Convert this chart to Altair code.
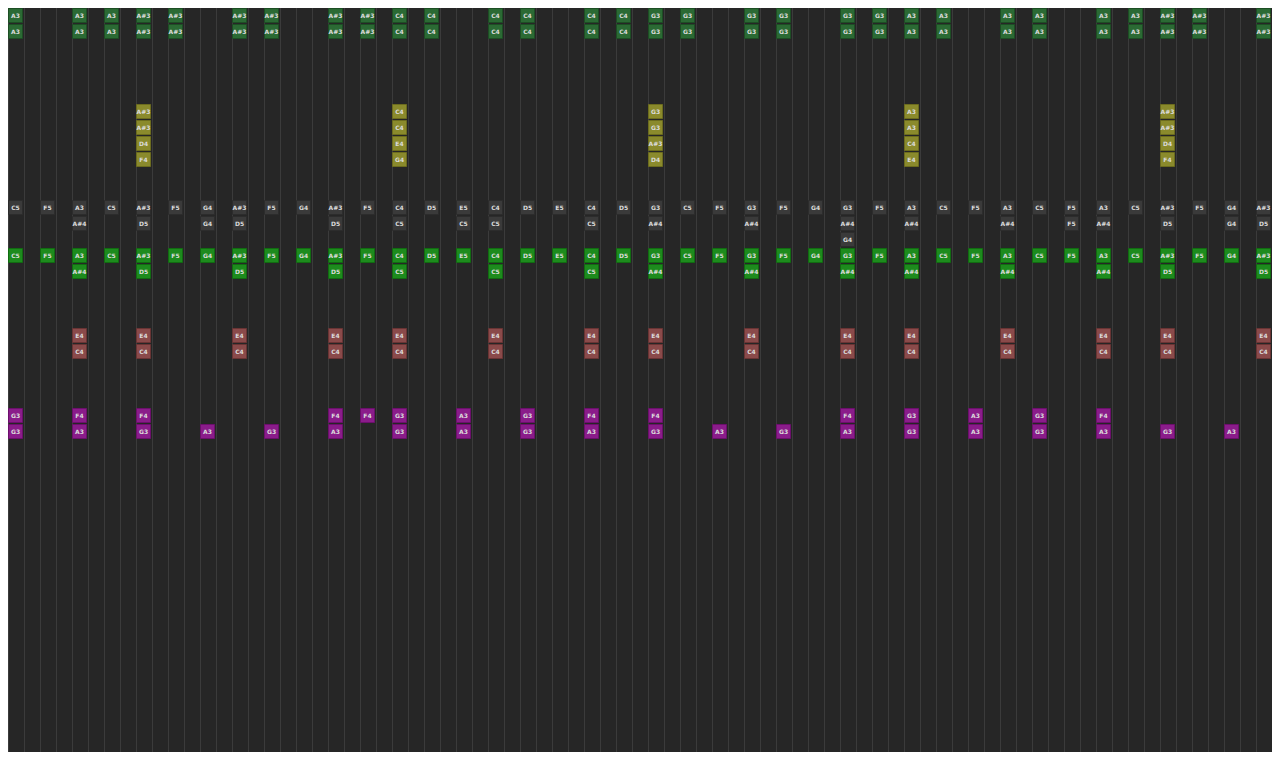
import altair as alt
import pandas as pd

# ---- data: piano-roll tracks (column index, note names) ----
lead_cols = [1, 5, 7, 9, 11, 15, 17, 21, 23, 25, 27, 31, 33, 37, 39, 41, 43, 47, 49,
             53, 55, 57, 59, 63, 65, 69, 71, 73, 75, 79]
lead_notes = ["A3", "A3", "A3", "A#3", "A#3", "A#3", "A#3", "A#3", "A#3", "C4", "C4",
              "C4", "C4", "C4", "C4", "G3", "G3", "G3", "G3", "G3", "G3", "A3", "A3",
              "A3", "A3", "A3", "A3", "A#3", "A#3", "A#3"]
lead_rows = [0, 1]

chord_cols = [9, 25, 41, 57, 73]
chord_row6 = ["A#3", "C4", "G3", "A3", "A#3"]
chord_row7 = ["A#3", "C4", "G3", "A3", "A#3"]
chord_row8 = ["D4", "E4", "A#3", "C4", "D4"]
chord_row9 = ["F4", "G4", "D4", "E4", "F4"]

arp_cols = list(range(1, 80, 2))
arp_top = ["C5", "F5", "A3", "C5", "A#3", "F5", "G4", "A#3", "F5", "G4",
           "A#3", "F5", "C4", "D5", "E5", "C4", "D5", "E5", "C4", "D5",
           "G3", "C5", "F5", "G3", "F5", "G4", "G3", "F5", "A3", "C5",
           "F5", "A3", "C5", "F5", "A3", "C5", "A#3", "F5", "G4", "A#3"]
ghost_second = {5: "A#4", 9: "D5", 13: "G4", 15: "D5", 21: "D5", 25: "C5", 29: "C5",
                31: "C5", 37: "C5", 41: "A#4", 47: "A#4", 53: "A#4", 57: "A#4",
                63: "A#4", 67: "F5", 69: "A#4", 73: "D5", 77: "G4", 79: "D5"}
ghost_third = {53: "G4"}
arp_second = {5: "A#4", 9: "D5", 15: "D5", 21: "D5", 25: "C5", 31: "C5", 37: "C5",
              41: "A#4", 47: "A#4", 53: "A#4", 57: "A#4", 63: "A#4", 69: "A#4",
              73: "D5", 79: "D5"}

pad_cols = [5, 9, 15, 21, 25, 31, 37, 41, 47, 53, 57, 63, 69, 73, 79]
pad_top = "E4"
pad_bottom = "C4"

bass_top = {1: "G3", 5: "F4", 9: "F4", 21: "F4", 23: "F4", 25: "G3", 29: "A3",
            33: "G3", 37: "F4", 41: "F4", 53: "F4", 57: "G3", 61: "A3", 65: "G3",
            69: "F4"}
bass_bottom = {1: "G3", 5: "A3", 9: "G3", 13: "A3", 17: "G3", 21: "A3", 25: "G3",
               29: "A3", 33: "G3", 37: "A3", 41: "G3", 45: "A3", 49: "G3", 53: "A3",
               57: "G3", 61: "A3", 65: "G3", 69: "A3", 73: "G3", 77: "A3"}

track_names = ["lead", "chord", "ghost", "arp", "pad", "bass"]
track_fill = ["#2b6a34", "#8a8a2c", "#3a3a3a", "#1d8b1d", "#8a4a4a", "#8a1c8a"]
track_stroke = ["#1d4e24", "#6c6c1e", "#2c2c2c", "#116c11", "#6a3434", "#6c0f6c"]
grid_cols = list(range(1, 80))

# ---- build table ----
recs = []
for r in lead_rows:
    for c, n in zip(lead_cols, lead_notes):
        recs.append(("lead", c, r, n))
for r, notes in zip([6, 7, 8, 9], [chord_row6, chord_row7, chord_row8, chord_row9]):
    for c, n in zip(chord_cols, notes):
        recs.append(("chord", c, r, n))
for c, n in zip(arp_cols, arp_top):
    recs.append(("ghost", c, 12, n))
    recs.append(("arp", c, 15, n))
for c, n in ghost_second.items():
    recs.append(("ghost", c, 13, n))
for c, n in ghost_third.items():
    recs.append(("ghost", c, 14, n))
for c, n in arp_second.items():
    recs.append(("arp", c, 16, n))
for c in pad_cols:
    recs.append(("pad", c, 20, pad_top))
    recs.append(("pad", c, 21, pad_bottom))
for c, n in bass_top.items():
    recs.append(("bass", c, 25, n))
for c, n in bass_bottom.items():
    recs.append(("bass", c, 26, n))

df = pd.DataFrame(recs, columns=["track", "col", "row", "note"])
df["x0"] = df["col"] + 0.5 / 16
df["x1"] = df["col"] + 14.5 / 16
df["y0"] = df["row"] + 0.5 / 16
df["y1"] = df["row"] + 14.5 / 16
df["xc"] = df["col"] + 7.5 / 16
df["yc"] = df["row"] + 8 / 16

grid = pd.DataFrame({"g": [c + 0.5 / 16 for c in grid_cols]})

xs = alt.Scale(domain=[1, 80], nice=False, zero=False)
ys = alt.Scale(domain=[0, 46.5], nice=False, zero=False, reverse=True)

gridlines = alt.Chart(grid).mark_rule(color="#3b3b3b", strokeWidth=1).encode(
    x=alt.X("g:Q", scale=xs, axis=None)
)

boxes = alt.Chart(df).mark_rect(strokeWidth=1).encode(
    x=alt.X("x0:Q", scale=xs, axis=None),
    x2="x1:Q",
    y=alt.Y("y0:Q", scale=ys, axis=None),
    y2="y1:Q",
    fill=alt.Fill("track:N", scale=alt.Scale(domain=track_names, range=track_fill), legend=None),
    stroke=alt.Stroke("track:N", scale=alt.Scale(domain=track_names, range=track_stroke), legend=None),
)

labels = alt.Chart(df).mark_text(
    fontSize=6, font="DejaVu Sans", fontWeight="bold", color="#dcdcdc",
    align="center", baseline="middle"
).encode(
    x=alt.X("xc:Q", scale=xs, axis=None),
    y=alt.Y("yc:Q", scale=ys, axis=None),
    text="note:N",
)

chart = alt.layer(gridlines, boxes, labels).properties(
    width=1264, height=744, background="#262626",
    autosize=alt.AutoSizeParams(type="none"), padding=0
).configure_view(stroke=None, fill="#262626")

chart.save("out.html", embed_options={"renderer": "svg", "actions": False})
